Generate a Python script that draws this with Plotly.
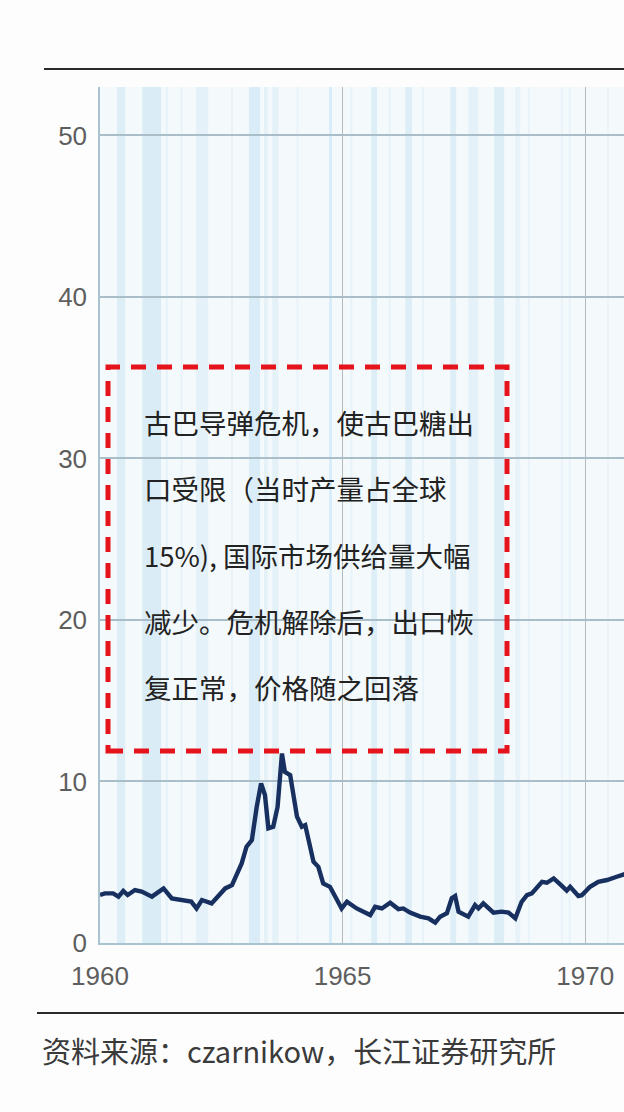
import plotly.graph_objects as go

# price series (decimal year, value)
years = [1960.00, 1960.10, 1960.27, 1960.38, 1960.48, 1960.57, 1960.72, 1960.86,
         1961.07, 1961.31, 1961.48, 1961.75, 1961.88, 1961.99, 1962.10, 1962.30,
         1962.58, 1962.72, 1962.92, 1963.02, 1963.13, 1963.23, 1963.32, 1963.40,
         1963.47, 1963.57, 1963.66, 1963.75, 1963.81, 1963.92, 1964.06, 1964.16,
         1964.23, 1964.40, 1964.50, 1964.60, 1964.74, 1964.98, 1965.09, 1965.29,
         1965.57, 1965.67, 1965.81, 1965.98, 1966.15, 1966.25, 1966.39, 1966.60,
         1966.77, 1966.91, 1967.01, 1967.15, 1967.25, 1967.32, 1967.39, 1967.59,
         1967.73, 1967.80, 1967.90, 1968.11, 1968.28, 1968.42, 1968.56, 1968.69,
         1968.80, 1968.90, 1969.00, 1969.11, 1969.21, 1969.35, 1969.48, 1969.62,
         1969.69, 1969.86, 1969.93, 1970.10, 1970.27, 1970.45, 1970.65, 1970.85]
prices = [2.97, 3.07, 3.07, 2.87, 3.22, 2.97, 3.28, 3.18,
          2.87, 3.38, 2.76, 2.61, 2.56, 2.14, 2.66, 2.45,
          3.38, 3.58, 4.93, 5.96, 6.37, 8.43, 9.88, 9.16,
          7.10, 7.20, 8.43, 11.73, 10.60, 10.40, 7.82, 7.20,
          7.30, 5.03, 4.72, 3.69, 3.48, 2.14, 2.56, 2.14,
          1.73, 2.24, 2.14, 2.49, 2.10, 2.14, 1.88, 1.63,
          1.53, 1.26, 1.63, 1.84, 2.77, 2.91, 1.94, 1.63,
          2.35, 2.14, 2.45, 1.88, 1.94, 1.88, 1.53, 2.55,
          2.96, 3.07, 3.38, 3.79, 3.73, 4.00, 3.65, 3.24,
          3.48, 2.91, 2.96, 3.48, 3.79, 3.90, 4.10, 4.30]

# light blue background stripes
stripe_start = [1960.35, 1960.87, 1961.35, 1961.66, 1961.98, 1962.70, 1963.07, 1963.38,
                1963.55, 1964.05, 1964.72, 1965.16, 1965.59, 1965.95, 1966.29, 1966.64,
                1967.22, 1967.59, 1968.12, 1968.56, 1968.82, 1969.50, 1969.66, 1970.45]
stripe_end = [1960.52, 1961.26, 1961.40, 1961.70, 1962.23, 1962.74, 1963.30, 1963.46,
              1963.68, 1964.09, 1964.78, 1965.20, 1965.71, 1965.99, 1966.43, 1966.68,
              1967.34, 1967.80, 1968.33, 1968.66, 1968.86, 1969.54, 1969.70, 1970.49]
stripe_alpha = [0.22, 0.24, 0.12, 0.12, 0.14, 0.12, 0.26, 0.15,
                0.15, 0.10, 0.26, 0.12, 0.22, 0.12, 0.22, 0.12,
                0.22, 0.14, 0.22, 0.12, 0.10, 0.10, 0.10, 0.10]

y_ticks = [0, 10, 20, 30, 40, 50]
x_ticks = [1960, 1965, 1970]

note_lines = ['古巴导弹危机，使古巴糖出',
              '口受限（当时产量占全球',
              '15%), 国际市场供给量大幅',
              '减少。危机解除后，出口恢',
              '复正常，价格随之回落']
source = '资料来源：czarnikow，长江证券研究所'

fig = go.Figure()
fig.add_trace(go.Scatter(x=years, y=prices, mode='lines',
                         line=dict(color='#17305f', width=4.4),
                         showlegend=False, hoverinfo='skip'))

for s, e, a in zip(stripe_start, stripe_end, stripe_alpha):
    fig.add_shape(type='rect', xref='x', yref='y domain', x0=s, x1=e, y0=0, y1=1,
                  fillcolor='rgba(140,200,230,%s)' % a, line_width=0, layer='below')

# red dashed box around the note
fig.add_shape(type='rect', xref='paper', yref='paper',
              x0=(108 - 100) / 524, x1=(507 - 100) / 524,
              y0=(943 - 751) / 856, y1=(943 - 367) / 856,
              line=dict(color='#e5131b', width=5, dash='15px,11px'))

for i, txt in enumerate(note_lines):
    fig.add_annotation(xref='paper', yref='paper',
                       x=(142 - 100) / 524, y=(943 - (422 + 66.3 * i)) / 856,
                       xanchor='left', yanchor='middle', showarrow=False, text=txt,
                       font=dict(family='Noto Sans CJK SC', size=27.5, color='#222222'))

# top and bottom rules
fig.add_shape(type='line', xref='paper', yref='paper',
              x0=(44 - 100) / 524, x1=1, y0=(943 - 69) / 856, y1=(943 - 69) / 856,
              line=dict(color='#2a2a2a', width=2))
fig.add_shape(type='line', xref='paper', yref='paper',
              x0=(37 - 100) / 524, x1=1, y0=(943 - 1013) / 856, y1=(943 - 1013) / 856,
              line=dict(color='#2a2a2a', width=2))

fig.add_annotation(xref='paper', yref='paper', x=(40 - 100) / 524, y=(943 - 1050) / 856,
                   xanchor='left', yanchor='middle', showarrow=False, text=source,
                   font=dict(family='Noto Sans CJK SC', size=29, color='#3a3a3a'))

fig.update_layout(
    width=624, height=1112,
    margin=dict(l=100, r=0, t=87, b=1112 - 87 - 856),
    paper_bgcolor='#fdfdfd', plot_bgcolor='#f4f9fc',
    font=dict(family='Liberation Sans', color='#5e5e5e'),
    xaxis=dict(range=[1960, 1970.8], tickvals=x_ticks, ticktext=[str(v) for v in x_ticks],
               showgrid=True, gridcolor='#b4bcc0', gridwidth=1.2, zeroline=False,
               showline=True, linecolor='#a9c3cf', linewidth=1.5,
               ticks='', ticklabelstandoff=9, tickfont=dict(size=26, color='#5e5e5e')),
    yaxis=dict(range=[0, 53], tickvals=y_ticks, showgrid=True, gridcolor='#a9bec8',
               gridwidth=1.5, zeroline=False, showline=True, linecolor='#a9c3cf',
               linewidth=1.5, ticks='', ticklabelstandoff=6,
               tickfont=dict(size=26, color='#5e5e5e')),
)

# drop the default page margin so the figure sits at the window origin
fig.write_html('out.html', config={'displayModeBar': False},
               post_script="document.body.style.margin='0';document.body.style.overflow='hidden';")
